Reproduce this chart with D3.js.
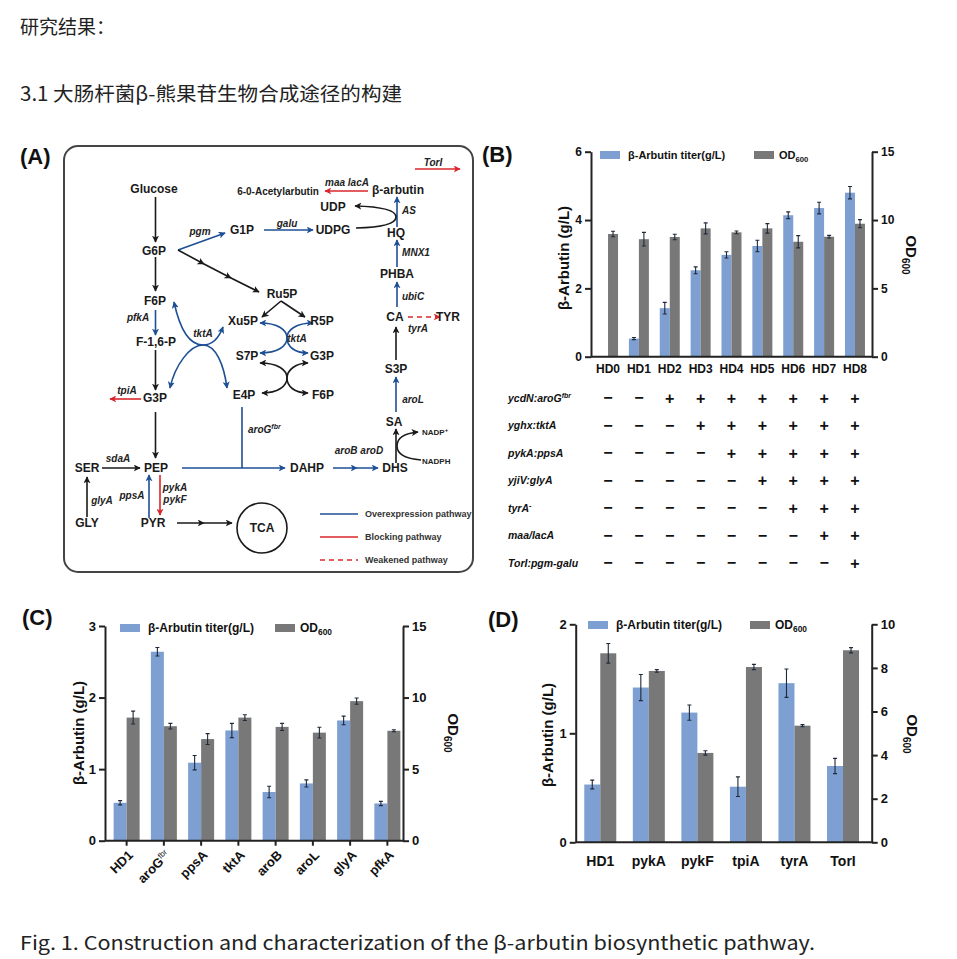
<!DOCTYPE html>
<html><head><meta charset="utf-8">
<script src="https://cdn.jsdelivr.net/npm/d3@7"></script>
<style>body{margin:0;background:#fff;} svg{display:block;}</style>
</head><body>
<svg id="fig" width="957" height="959"></svg>
<script>
// ================= DATA =================
// Panel B
const bStrains = ["HD0","HD1","HD2","HD3","HD4","HD5","HD6","HD7","HD8"];
const bTiter    = [0, 0.53, 1.42, 2.53, 2.98, 3.24, 4.14, 4.35, 4.80];
const bTiterErr = [0, 0.03, 0.17, 0.10, 0.09, 0.17, 0.10, 0.17, 0.18];
const bOD       = [8.98, 8.60, 8.76, 9.39, 9.10, 9.39, 8.41, 8.78, 9.73];
const bODErr    = [0.20, 0.50, 0.20, 0.40, 0.10, 0.35, 0.45, 0.10, 0.30];
const bLeftTicks = [0, 2, 4, 6];
const bRightTicks = [0, 5, 10, 15];
const bModules = ["ycdN:aroG", "yghx:tktA", "pykA:ppsA", "yjiV:glyA", "tyrA", "maa/lacA", "TorI:pgm-galu"];
const bModuleSup = ["fbr", "", "", "", "-", "", ""];
const bSigns = ["--+++++++", "---++++++", "----+++++", "-----++++", "------+++", "-------++", "--------+"];
// Panel C
const cGenes = ["HD1", "aroG", "ppsA", "tktA", "aroB", "aroL", "glyA", "pfkA"];
const cGeneSup = ["", "fbr", "", "", "", "", "", ""];
const cTiter    = [0.53, 2.64, 1.09, 1.54, 0.68, 0.80, 1.68, 0.52];
const cTiterErr = [0.03, 0.06, 0.10, 0.10, 0.08, 0.05, 0.06, 0.03];
const cOD       = [8.60, 8.00, 7.10, 8.60, 7.95, 7.55, 9.75, 7.68];
const cODErr    = [0.45, 0.20, 0.38, 0.20, 0.25, 0.38, 0.22, 0.07];
const cLeftTicks = [0, 1, 2, 3];
const cRightTicks = [0, 5, 10, 15];
// Panel D
const dGenes = ["HD1", "pykA", "pykF", "tpiA", "tyrA", "TorI"];
const dTiter    = [0.53, 1.42, 1.19, 0.51, 1.46, 0.70];
const dTiterErr = [0.04, 0.12, 0.07, 0.09, 0.13, 0.07];
const dOD       = [8.67, 7.86, 4.10, 8.04, 5.35, 8.81];
const dODErr    = [0.45, 0.06, 0.10, 0.12, 0.05, 0.12];
const dLeftTicks = [0, 1, 2];
const dRightTicks = [0, 2, 4, 6, 8, 10];
// Texts
const headTitle = "研究结果：";
const sectionTitle = "3.1 大肠杆菌β-熊果苷生物合成途径的构建";
const captionText = "Fig. 1. Construction and characterization of the β-arbutin biosynthetic pathway.";
const legendTiter = "β-Arbutin titer(g/L)";
const yTitle = "β-Arbutin (g/L)";

// ================= DIAGRAM (panel A layout) =================
const diagNodes = [
  ["Glucose",154,189,12],["6-0-Acetylarbutin",278,191,10],["β-arbutin",398,190,12],
  ["UDP",333,207,12],["UDPG",333,230,12],["G1P",242,230,12],["HQ",396,233,12],
  ["PHBA",397,274,12],["G6P",154,251,12],["Ru5P",282,294,12],["F6P",155,301,12],
  ["Xu5P",243,321,12],["R5P",322,321,12],["CA",395,317,12],["TYR",448,317,12],
  ["F-1,6-P",156,342,12],["S7P",247,356,12],["G3P",322,356,12],["S3P",396,369,12],
  ["G3P",155,398,12],["E4P",244,395,12],["F6P",323,395,12],["SA",394,422,12],
  ["SER",87,468,12],["PEP",156,468,12],["DAHP",307,468,12],["DHS",395,468,12],
  ["GLY",87,523,12],["PYR",153,523,12],["TCA",262,528,12]
];
const diagGenes = [
  ["maa lacA",347,182,"middle"],["TorI",433,162,"middle"],["AS",409,210,"middle"],
  ["galu",287,223,"middle"],["pgm",200,231,"middle"],["MNX1",416,252,"middle"],
  ["ubiC",413,296,"middle"],["tyrA",418,328,"middle"],["tktA",203,333,"middle"],
  ["tktA",297,338,"middle"],["pfkA",138,317,"middle"],["tpiA",127,390,"middle"],
  ["aroL",413,399,"middle"],["aroB aroD",359,450,"middle"],["sdaA",118,458,"middle"],
  ["glyA",102,500,"middle"],["ppsA",132,495,"middle"],["pykA",175,487,"middle"],
  ["pykF",175,499,"middle"]
];
const K = "#1a1a1a", BL = "#1d4f94", RD = "#d9262b";
const diagArrows = [
  [K,"M155.5,197 L155.5,242",0,1],[K,"M155.5,257 L155.5,291",0,1],[BL,"M155.5,310 L155.5,335",0,1],
  [K,"M155.5,350 L155.5,390",0,1],[K,"M155.5,412 L155.5,458",0,1],[RD,"M141,399 L110,399",0,1],
  [K,"M102,468 L140,468",0,1],[K,"M87,517 L87,477",0,1],[BL,"M149,518 L149,475",0,1],
  [RD,"M160,475 L160,515",0,1],[K,"M177,523 L204,523 L232,523",0,1,1],
  [BL,"M182,468 L285,468",0,1],[BL,"M242,407 L242,468",0,0],
  [BL,"M333,468 L357,468 L378,468",0,1,1],[K,"M396,463 L396,429",0,1],
  [K,"M421,460 Q397,458 397,446 Q397,434 418,432",0,1],[BL,"M396,412 L396,377",0,1],
  [K,"M396,360 L396,327",0,1],[BL,"M397,307 L397,282",0,1],[BL,"M397,267 L397,240",0,1],
  [BL,"M397,227 L397,197",0,1],[K,"M356,228 Q396,227 396,217 Q396,207 355,206",0,1],
  [RD,"M368,191 L325,191",0,1],[RD,"M415,169 L460,169",0,1],
  [BL,"M178,250 L225,233",0,1],[BL,"M264,230 L313,230",0,1],
  [K,"M178,250 L204,264 L231,278 L259,292",0,1,1],
  [K,"M281,301 L262,317",0,1],[K,"M281,301 L305,317",0,1],
  [BL,"M260,323 C278,323 287,330 287,338 C287,346 294,353 308,353",1,1],
  [BL,"M313,323 C296,323 287,330 287,338 C287,346 278,353 260,353",1,1],
  [K,"M260,363 C278,363 287,370 287,378 C287,386 294,393 308,393",1,1],
  [K,"M308,363 C296,363 287,370 287,378 C287,386 278,393 262,393",1,1],
  [BL,"M174,302 C180,330 190,345 203,345 C216,345 224,365 227,388",1,1],
  [BL,"M223,327 C220,335 215,345 203,345 C190,345 175,365 170,388",1,1]
];
const legendItems = [["Overexpression pathway",BL,""],["Blocking pathway",RD,""],["Weakened pathway",RD,"5,4"]];

// ================= DRAWING =================
const FONT = "'Liberation Sans', Arial, Helvetica, sans-serif";
const CJK = "'Noto Sans CJK SC', 'Noto Sans', sans-serif";
const BLUE_BAR = "#7d9fd1", GRAY_BAR = "#787878", AX = "#222";
const svg = d3.select("#fig");

// header texts
svg.append("text").attr("x",20).attr("y",34).attr("font-family",CJK).attr("font-size",19).attr("fill","#222").text(headTitle);
svg.append("text").attr("x",20).attr("y",101).attr("font-family",CJK).attr("font-size",19.5).attr("fill","#222")
  .attr("textLength",382).attr("lengthAdjust","spacingAndGlyphs").text(sectionTitle);
svg.append("text").attr("x",20).attr("y",950).attr("font-family",CJK).attr("font-size",19).attr("fill","#222")
  .attr("textLength",795).attr("lengthAdjust","spacingAndGlyphs").text(captionText);

// markers
const defs = svg.append("defs");
[["k",K],["b",BL],["r",RD]].forEach(([id,col])=>{
  defs.append("marker").attr("id","ah-"+id).attr("viewBox","0 0 10 10").attr("refX",9).attr("refY",5)
    .attr("markerWidth",7).attr("markerHeight",7).attr("markerUnits","userSpaceOnUse")
    .attr("orient","auto-start-reverse")
    .append("path").attr("d","M0,0 L10,5 L0,10 L2.5,5 Z").attr("fill",col);
});
const mk = col => col===K ? "url(#ah-k)" : col===BL ? "url(#ah-b)" : "url(#ah-r)";

// Panel A
const gA = svg.append("g").attr("font-family",FONT);
gA.append("text").attr("x",20).attr("y",164).attr("font-size",22).attr("font-weight","bold").attr("fill","#111").text("(A)");
gA.append("rect").attr("x",64).attr("y",146).attr("width",409).attr("height",426).attr("rx",14)
  .attr("fill","none").attr("stroke","#444").attr("stroke-width",2);
diagArrows.forEach(a=>{
  const p = gA.append("path").attr("d",a[1]).attr("fill","none").attr("stroke",a[0]).attr("stroke-width",1.6);
  if (a[2]) p.attr("marker-start",mk(a[0]));
  if (a[3]) p.attr("marker-end",mk(a[0]));
  if (a[4]) p.attr("marker-mid",mk(a[0]));
});
// CA -> TYR dashed
gA.append("path").attr("d","M408,317 L440,317").attr("fill","none").attr("stroke",RD).attr("stroke-width",1.6)
  .attr("stroke-dasharray","5,4").attr("marker-end",mk(RD));
gA.append("circle").attr("cx",262).attr("cy",528).attr("r",25).attr("fill","none").attr("stroke",K).attr("stroke-width",1.6);
gA.selectAll("text.node").data(diagNodes).join("text").attr("class","node")
  .attr("x",d=>d[1]).attr("y",d=>d[2]+d[3]*0.36).attr("text-anchor","middle")
  .attr("font-size",d=>d[3]).attr("font-weight","bold").attr("fill",K).text(d=>d[0]);
gA.selectAll("text.gene").data(diagGenes).join("text").attr("class","gene")
  .attr("x",d=>d[1]).attr("y",d=>d[2]+3.6).attr("text-anchor",d=>d[3])
  .attr("font-size",10).attr("font-weight","bold").attr("font-style","italic").attr("fill","#222").text(d=>d[0]);
const aroGt = gA.append("text").attr("x",248).attr("y",433).attr("font-size",10).attr("font-weight","bold").attr("font-style","italic").attr("fill","#222");
aroGt.append("tspan").text("aroG");
aroGt.append("tspan").attr("dy",-4).attr("font-size",7).text("fbr");
const nadp = gA.append("text").attr("x",422).attr("y",435).attr("font-size",8).attr("font-weight","bold").attr("fill","#222");
nadp.append("tspan").text("NADP");
nadp.append("tspan").attr("dy",-3).attr("font-size",6).text("+");
gA.append("text").attr("x",422).attr("y",464).attr("font-size",8).attr("font-weight","bold").attr("fill","#222").text("NADPH");
legendItems.forEach((l,i)=>{
  const y = 514 + i*23;
  gA.append("line").attr("x1",320).attr("x2",358).attr("y1",y).attr("y2",y).attr("stroke",l[1]).attr("stroke-width",1.6)
    .attr("stroke-dasharray",l[2]||null);
  gA.append("text").attr("x",365).attr("y",y+3.3).attr("font-size",9).attr("font-weight","bold").attr("fill","#333").text(l[0]);
});

// ---------- generic bar panel ----------
function barPanel(o) {
  const g = svg.append("g").attr("font-family",FONT);
  const x = d3.scaleBand().domain(o.cats).range(o.band);
  const yL = d3.scaleLinear().domain([0,o.lMax]).range([o.yB,o.yT]);
  const yR = d3.scaleLinear().domain([0,o.rMax]).range([o.yB,o.yT]);
  const c = d => x(d) + x.bandwidth()/2;
  g.append("text").attr("x",o.labX).attr("y",o.labY).attr("font-size",22).attr("font-weight","bold").attr("fill","#111").text(o.label);
  g.append("g").selectAll("rect").data(o.cats).join("rect")
    .attr("x",d=>c(d)-o.bw).attr("width",o.bw)
    .attr("y",(d,i)=>yL(o.titer[i])).attr("height",(d,i)=>yL(0)-yL(o.titer[i])).attr("fill",BLUE_BAR);
  g.append("g").selectAll("rect").data(o.cats).join("rect")
    .attr("x",d=>c(d)).attr("width",o.bw)
    .attr("y",(d,i)=>yR(o.od[i])).attr("height",(d,i)=>yR(0)-yR(o.od[i])).attr("fill",GRAY_BAR);
  const err = (cx, s, v, e) => {
    if (!(v>0)) return;
    const t = s(v+e), b = s(v-e), w = 2;
    g.append("path").attr("d",`M${cx},${t}V${b}M${cx-w},${t}H${cx+w}M${cx-w},${b}H${cx+w}`)
      .attr("stroke","#1e2a3a").attr("stroke-width",1.1).attr("fill","none");
  };
  o.cats.forEach((d,i)=>{ err(c(d)-o.bw/2, yL, o.titer[i], o.titerErr[i]); err(c(d)+o.bw/2, yR, o.od[i], o.odErr[i]); });
  const style = (sel, fs) => {
    sel.selectAll(".domain, .tick line").attr("stroke",AX).attr("stroke-width",2);
    sel.selectAll(".tick text").attr("font-size",fs).attr("font-weight","bold").attr("fill","#111").attr("font-family",FONT);
  };
  const gl = g.append("g").attr("transform",`translate(${o.xL},0)`)
    .call(d3.axisLeft(yL).tickValues(o.lTicks).tickSize(6).tickSizeOuter(0).tickPadding(3).tickFormat(d3.format("d")));
  style(gl, o.tickFs);
  const gr = g.append("g").attr("transform",`translate(${o.xR},0)`)
    .call(d3.axisRight(yR).tickValues(o.rTicks).tickSize(6).tickSizeOuter(0).tickPadding(3).tickFormat(d3.format("d")));
  style(gr, o.tickFs);
  const gb = g.append("g").attr("transform",`translate(0,${o.yB})`)
    .call(d3.axisBottom(x).tickSize(o.xTick).tickSizeOuter(0).tickPadding(o.xPad).tickFormat(o.sup ? "" : (d=>d)));
  gb.select(".domain").attr("d",`M${o.xL},0H${o.xR}`);
  style(gb, o.xFs);
  if (o.sup) {
    o.cats.forEach((d,i)=>{
      const t = g.append("text").attr("transform",`translate(${c(d)+4},${o.yB+12}) rotate(-45)`)
        .attr("text-anchor","end").attr("font-size",o.xFs).attr("font-weight","bold").attr("fill","#111").attr("dy","0.35em");
      t.append("tspan").text(d);
      if (o.sup[i]) { t.append("tspan").attr("dy","-0.6em").attr("font-size",o.xFs*0.62).attr("font-weight","normal").text(o.sup[i]); }
    });
  }
  // axis titles
  g.append("text").attr("transform",`translate(${o.ytX},${o.ytY}) rotate(-90)`).attr("text-anchor","middle")
    .attr("font-size",15).attr("font-weight","bold").attr("fill","#111").text(yTitle);
  const rt = g.append("text").attr("transform",`translate(${o.rtX},${o.rtY}) rotate(90)`).attr("text-anchor","middle")
    .attr("font-size",15).attr("font-weight","bold").attr("fill","#111");
  rt.append("tspan").text("OD"); rt.append("tspan").attr("dy",4).attr("font-size",10).text("600");
  // legend
  const ly = o.legY;
  g.append("rect").attr("x",o.leg1).attr("y",ly-4).attr("width",20).attr("height",8).attr("fill",BLUE_BAR);
  g.append("text").attr("x",o.leg1+28).attr("y",ly+o.legFs*0.36).attr("font-size",o.legFs).attr("font-weight","bold").attr("fill","#111").text(legendTiter);
  g.append("rect").attr("x",o.leg2).attr("y",ly-4).attr("width",20).attr("height",8).attr("fill",GRAY_BAR);
  const lt = g.append("text").attr("x",o.leg2+25).attr("y",ly+o.legFs*0.36).attr("font-size",o.legFs).attr("font-weight","bold").attr("fill","#111");
  lt.append("tspan").text("OD"); lt.append("tspan").attr("dy",3).attr("font-size",o.legFs*0.7).text("600");
  return {g, x};
}

// Panel B
const pB = barPanel({label:"(B)",labX:482,labY:162,cats:bStrains,titer:bTiter,titerErr:bTiterErr,od:bOD,odErr:bODErr,
  band:[592.6,870.4],xL:591,xR:872,yB:356.7,yT:151.7,lMax:6,rMax:15,lTicks:bLeftTicks,rTicks:bRightTicks,
  bw:10,tickFs:12,xFs:12,xTick:0,xPad:8,ytX:569,ytY:258,rtX:906,rtY:255,legY:155,leg1:600,leg2:754,legFs:11});
// table under B
const gT = svg.append("g").attr("font-family",FONT);
const rowY = d3.scalePoint().domain(bModules).range([398,563]);
bModules.forEach((m,r)=>{
  const t = gT.append("text").attr("x",508).attr("y",rowY(m)+3.8).attr("font-size",10.5).attr("font-weight","bold")
    .attr("font-style","italic").attr("fill","#111");
  t.append("tspan").text(m);
  if (bModuleSup[r]) t.append("tspan").attr("dy",-4).attr("font-size",7).text(bModuleSup[r]);
  bStrains.forEach((s,i)=>{
    const plus = bSigns[r][i]==="+";
    gT.append("text").attr("x",pB.x(s)+pB.x.bandwidth()/2).attr("y",rowY(m)+(plus?5.5:5))
      .attr("text-anchor","middle").attr("font-size",16).attr("font-weight","bold").attr("fill","#111")
      .text(plus ? "+" : "−");
  });
});

// Panel C
barPanel({label:"(C)",labX:22,labY:625,cats:cGenes,sup:cGeneSup,titer:cTiter,titerErr:cTiterErr,od:cOD,odErr:cODErr,
  band:[108,406],xL:105,xR:403,yB:840.7,yT:626,lMax:3,rMax:15,lTicks:cLeftTicks,rTicks:cRightTicks,
  bw:13,tickFs:13,xFs:13,xTick:5,xPad:3,ytX:84,ytY:733,rtX:448,rtY:733,legY:628,leg1:120,leg2:275,legFs:12});

// Panel D
barPanel({label:"(D)",labX:488,labY:627,cats:dGenes,titer:dTiter,titerErr:dTiterErr,od:dOD,odErr:dODErr,
  band:[576,867.3],xL:575.7,xR:871.7,yB:842.3,yT:624.3,lMax:2,rMax:10,lTicks:dLeftTicks,rTicks:dRightTicks,
  bw:16,tickFs:13,xFs:14,xTick:0,xPad:13.7,ytX:553,ytY:735,rtX:907,rtY:734,legY:625,leg1:588,leg2:750,legFs:12});
</script>
</body></html>
